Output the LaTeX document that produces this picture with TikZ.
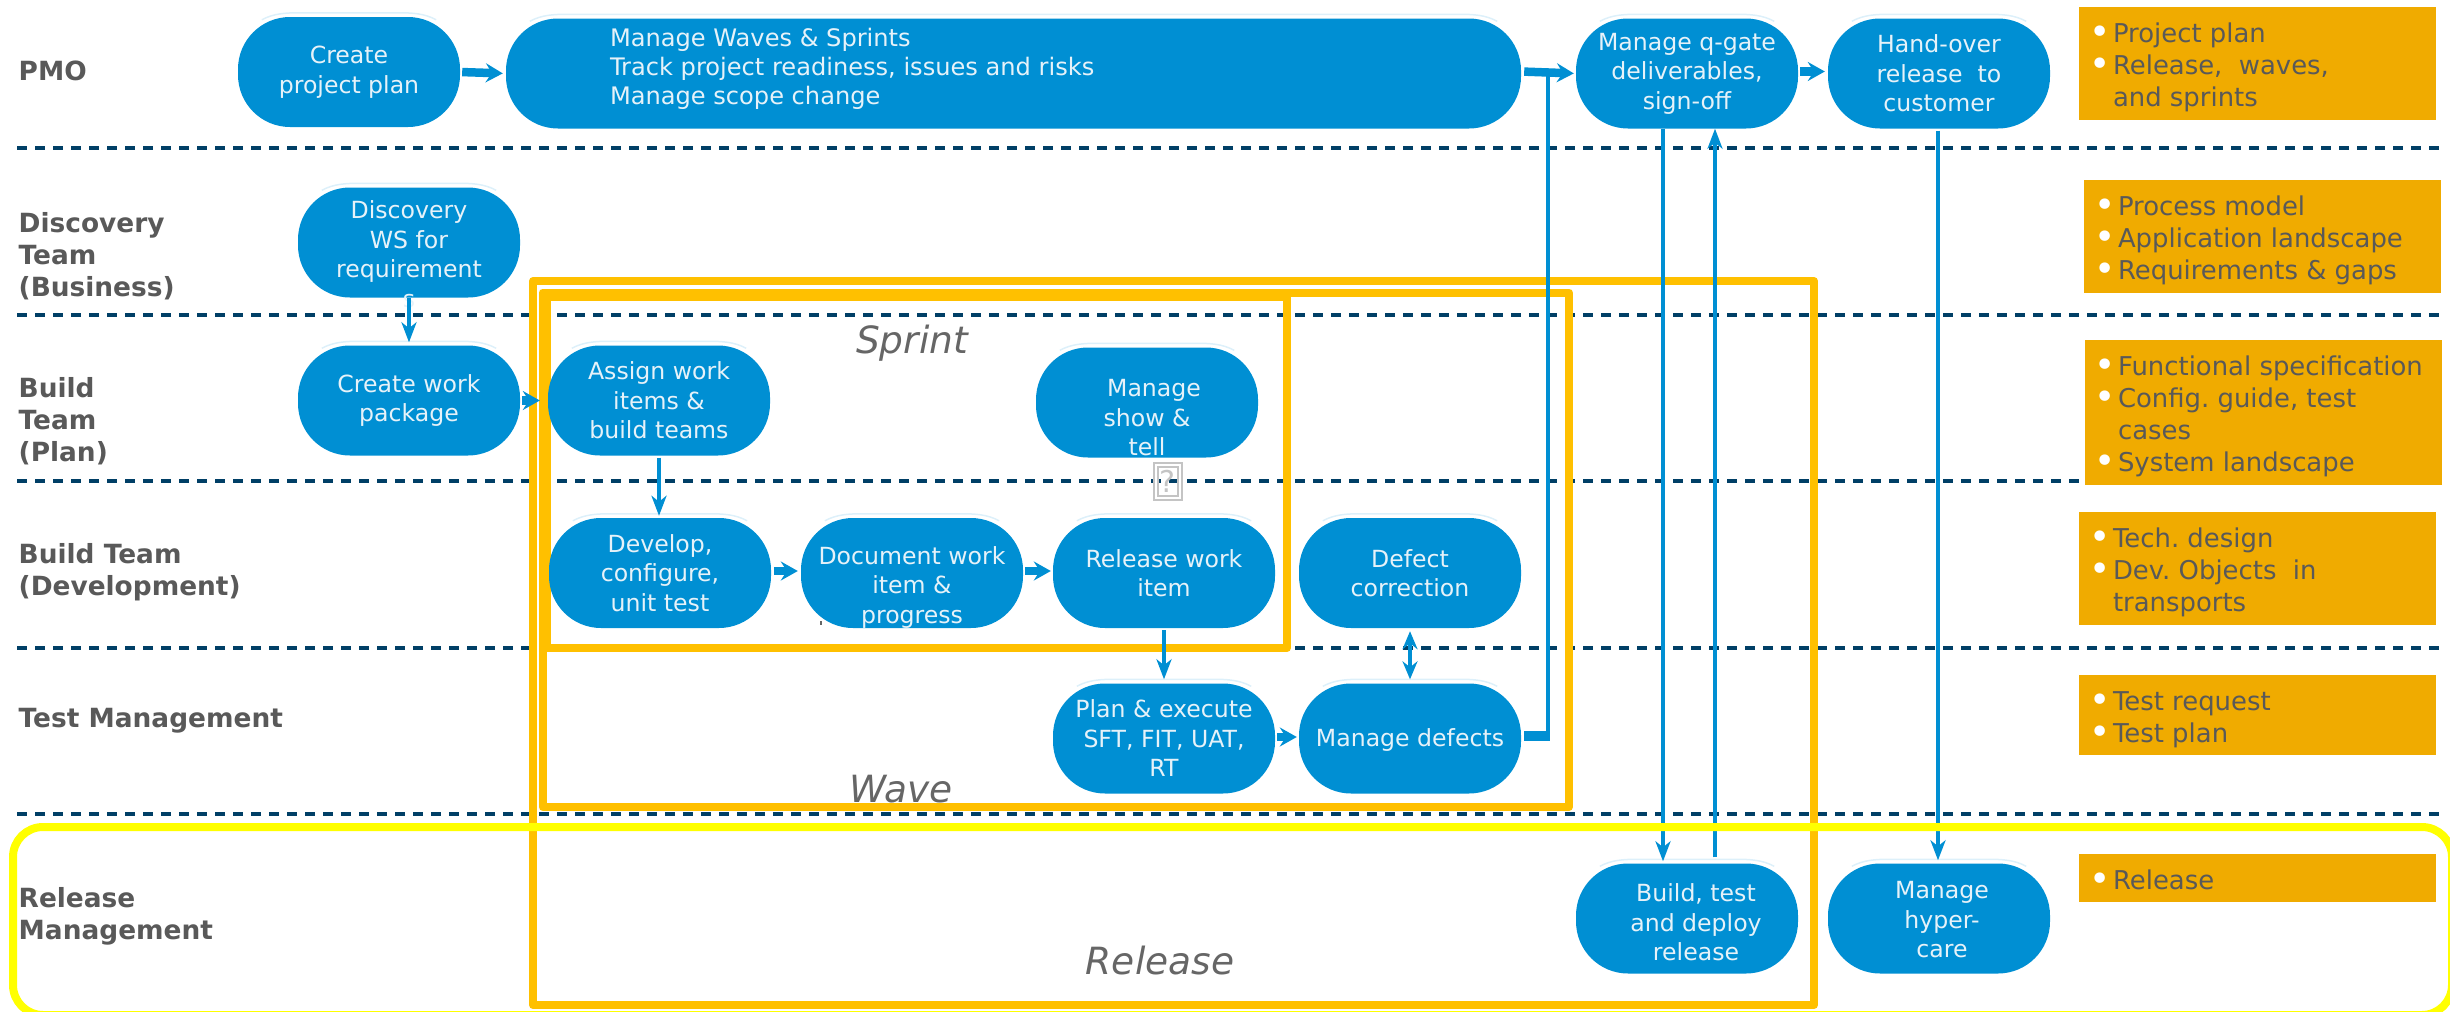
\documentclass[tikz,border=0pt]{standalone}
\usepackage{fontspec}
\setmainfont{DejaVu Sans}
\usetikzlibrary{arrows.meta}
\definecolor{nodeblue}{HTML}{008FD3}
\definecolor{pale}{HTML}{DDF0FA}
\definecolor{nodetext}{HTML}{E6F2F9}
\definecolor{boxorange}{HTML}{F0AB00}
\definecolor{darkgrey}{HTML}{595959}
\definecolor{midgrey}{HTML}{666666}
\definecolor{frame}{HTML}{FFC000}
\definecolor{yellowframe}{HTML}{FFFF00}
\definecolor{swim}{HTML}{003F66}
\definecolor{iconlines}{HTML}{C4C4C4}
\newcommand\ptext[3]{\makebox[0pt]{\hspace{#1}\hspace{#1}\raisebox{#2}[0pt][0pt]{\begin{tabular}{@{}c@{}}#3\end{tabular}}}}
\newcommand\ltext[4]{\makebox[#1][l]{\hspace{#2}\raisebox{#3}[\height][\depth]{\begin{tabular}{@{}l@{}}#4\end{tabular}}}}
\newcommand\bl{\llap{\raisebox{-2pt}[0pt][0pt]{\textcolor{white}{\fontsize{36}{32}\selectfont •}}\hspace{2.4pt}}}
\tikzset{
  x=1pt,y=-1pt,
  pill/.style={fill=nodeblue,rounded corners=52pt,minimum width=222pt,minimum height=110pt,inner sep=0pt,
    text=nodetext,align=center,font=\fontsize{23.6}{29.5}\selectfont},
  outbox/.style={fill=boxorange,minimum width=357pt,inner sep=0pt,text=darkgrey,font=\fontsize{25.9}{32}\selectfont},
  lane/.style={anchor=west,inner sep=0pt,align=left,text=darkgrey,font=\fontsize{26.4}{32}\selectfont\bfseries},
  title/.style={anchor=base,inner sep=0pt,text=midgrey,font=\fontsize{37.5}{40}\selectfont\itshape},
  sep/.style={draw=swim,line width=3.5pt,dash pattern=on 9.5pt off 8.5pt},
  goldframe/.style={draw=frame,line width=8pt,line join=round},
  hl/.style={draw=pale,line width=1.5pt},
  fat/.style={draw=nodeblue,line width=8.5pt,-{Stealth[length=17pt,width=19pt,inset=6pt]}},
  thin/.style={draw=nodeblue,line width=4.5pt,-{Stealth[length=20pt,width=15pt,inset=6pt]}},
  thinboth/.style={draw=nodeblue,line width=4.5pt,{Stealth[length=18pt,width=15pt,inset=6pt]}-{Stealth[length=18pt,width=15pt,inset=6pt]}},
  plainthin/.style={draw=nodeblue,line width=4.5pt},
  stub/.style={draw=nodeblue,line width=9.5pt},
}
\begin{document}
\begin{tikzpicture}
\useasboundingbox (0,0) rectangle (2450,1012);
% swimlane separators
\coordinate (s1a) at (17,148);  \coordinate (s1b) at (2442,148);
\coordinate (s2a) at (17,315);  \coordinate (s2b) at (2442,315);
\coordinate (s3a) at (17,481);  \coordinate (s3b) at (2442,481);
\coordinate (s4a) at (17,648);  \coordinate (s4b) at (2442,648);
\coordinate (s5a) at (17,814);  \coordinate (s5b) at (2442,814);
\foreach \i in {1,...,5} \draw[sep] (s\i a) -- (s\i b);
% lane titles
\node[lane] (l1) at (18.5,71) {PMO};
\node[lane] (l2) at (18.5,256) {Discovery\\Team\\(Business)};
\node[lane] (l3) at (18.5,421) {Build\\Team\\(Plan)};
\node[lane] (l4) at (18.5,572) {Build Team\\(Development)};
\node[lane] (l5) at (18.5,721) {Test Management};
\node[lane] (l6) at (18.5,916) {Release\\Management};
% gold frames
\draw[goldframe] (533,281) rectangle (1814,1005);
\draw[goldframe] (542.5,292.5) rectangle (1569,807);
\draw[goldframe] (546.5,297) rectangle (1287,648);
% activities
\node[pill] (plan) at (349,72) {\ptext{0pt}{-7pt}{Create\\project plan}};
\node[pill,minimum width=1015pt] (waves) at (1013.5,73.5) {\fontsize{24.1}{29}\selectfont\ltext{1015pt}{104pt}{4pt}{Manage Waves \& Sprints\\Track project readiness, issues and risks\\Manage scope change}};
\node[pill] (qgate) at (1687,73.5) {Manage q-gate\\deliverables,\\sign-off};
\node[pill] (hand) at (1939,73.5) {Hand-over\\release\ \ to\\customer};
\node[pill] (disc) at (409,242.5) {\ptext{0pt}{-21pt}{Discovery\\WS for\\requirement\\s}};
\node[pill] (work) at (409,400.5) {\ptext{0pt}{-7pt}{Create work\\package}};
\node[pill] (assign) at (659,400.5) {Assign work\\items \&\\build teams};
\node[pill] (show) at (1147,402.5) {\ptext{0pt}{-24pt}{\hspace*{14pt}Manage\\show \&\\tell}};
\node[pill] (dev) at (660,573) {Develop,\\configure,\\unit test};
\node[pill] (doc) at (912,573) {\ptext{0pt}{-21pt}{Document work\\item \&\\progress}};
\node[pill] (rel) at (1164,573) {Release work\\item};
\node[pill] (defc) at (1410,573) {Defect\\correction};
\node[pill] (exec) at (1164,738.5) {Plan \& execute\\SFT, FIT, UAT,\\RT};
\node[pill] (defm) at (1410,738.5) {\ptext{0pt}{-8pt}{Manage defects}};
\node[pill] (build) at (1687,918.5) {\ptext{9pt}{-13pt}{Build, test\\and deploy\\release}};
\node[pill] (hyper) at (1939,918.5) {\ptext{3pt}{-10pt}{Manage\\hyper-\\care}};
% pale highlight over each activity
\foreach \n in {plan,waves,qgate,hand,disc,work,assign,show,dev,doc,rel,defc,exec,defm,build,hyper}
  \draw[hl] ([xshift=24pt,yshift=-3pt]\n.north west) .. controls ([xshift=36pt,yshift=3.5pt]\n.north west) and ([xshift=48pt,yshift=4pt]\n.north west) .. ([xshift=62pt,yshift=4pt]\n.north west)
     -- ([xshift=-62pt,yshift=4pt]\n.north east) .. controls ([xshift=-48pt,yshift=4pt]\n.north east) and ([xshift=-36pt,yshift=3.5pt]\n.north east) .. ([xshift=-24pt,yshift=-3pt]\n.north east);
% frame titles
\node[title] (tsprint) at (912,353) {Sprint};
\node[title] (twave) at (901,802) {Wave};
\node[title] (trel) at (1160,974) {Release};
% connectors
\coordinate (dj) at (1548,736);
\coordinate (wj) at (1548,73);
\draw[stub] ([xshift=3pt,yshift=2.5pt]defm.east) -- ([xshift=2.25pt]dj);
\draw[plainthin] (dj) -- (wj);
\draw[fat,shorten <=2pt,shorten >=3pt] (plan.east) -- (waves.west);
\draw[fat,shorten <=3pt,shorten >=2pt] ([yshift=2pt]waves.east) -- (qgate.west);
\draw[fat,shorten <=2pt,shorten >=3pt] ([yshift=2pt]qgate.east) -- ([yshift=2pt]hand.west);
\draw[fat,shorten <=2pt,shorten >=8pt] (work.east) -- (assign.west);
\draw[fat,shorten <=3pt,shorten >=3pt] ([yshift=2pt]dev.east) -- ([yshift=2pt]doc.west);
\draw[fat,shorten <=2pt,shorten >=2pt] ([yshift=2pt]doc.east) -- ([yshift=2pt]rel.west);
\draw[fat,shorten <=2pt,shorten >=2pt] ([yshift=1.5pt]exec.east) -- ([yshift=1.5pt]defm.west);
\draw[thin,shorten >=3pt] (disc.south) -- (work.north);
\draw[thin,shorten <=2pt,shorten >=2pt] (assign.south) -- ([xshift=-1pt]dev.north);
\draw[thin,shorten <=2pt,shorten >=4pt] (rel.south) -- (exec.north);
\draw[thinboth,shorten <=3pt,shorten >=4pt] (defc.south) -- (defm.north);
\draw[thin,shorten >=2pt] ([xshift=-24pt]qgate.south) -- ([xshift=-24pt]build.north);
\draw[thin] ([xshift=28pt,yshift=6pt]build.north) -- ([xshift=28pt]qgate.south);
\draw[thin,shorten <=2pt,shorten >=3pt] ([xshift=-1pt]hand.south) -- ([xshift=-1pt]hyper.north);
% yellow release frame
\draw[draw=yellowframe,line width=8pt,rounded corners=30pt] (13,827) rectangle (2452,1015);
% deliverables
\node[outbox,minimum height=113pt] (o1) at (2257.5,63.5) {\ltext{357pt}{34pt}{-5pt}{\bl Project plan\\\bl Release,\ \ waves,\\and sprints}};
\node[outbox,minimum height=113pt] (o2) at (2262.5,236.5) {\ltext{357pt}{34pt}{-5pt}{\bl Process model\\\bl Application landscape\\\bl Requirements \& gaps}};
\node[outbox,minimum height=145pt] (o3) at (2263.5,412.5) {\ltext{357pt}{33pt}{-5pt}{\bl Functional specification\\\bl Config.\ guide, test\\cases\\\bl System landscape}};
\node[outbox,minimum height=113pt] (o4) at (2257.5,568.5) {\ltext{357pt}{34pt}{-5pt}{\bl Tech.\ design\\\bl Dev.\ Objects\ \ in\\transports}};
\node[outbox,minimum height=80pt] (o5) at (2257.5,715) {\ltext{357pt}{34pt}{-5pt}{\bl Test request\\\bl Test plan}};
\node[outbox,minimum height=48pt] (o6) at (2257.5,878) {\ltext{357pt}{34pt}{-5pt}{\bl Release}};
% broken picture marker
\node[draw=iconlines,double=white,double distance=2pt,line width=2pt,minimum width=24pt,minimum height=33pt,inner sep=0pt,text=iconlines,font=\fontsize{30}{30}\selectfont] (qm) at (1167.5,481) {?};
\fill[midgrey] (820,621) rectangle (822,625);
\end{tikzpicture}
\end{document}
